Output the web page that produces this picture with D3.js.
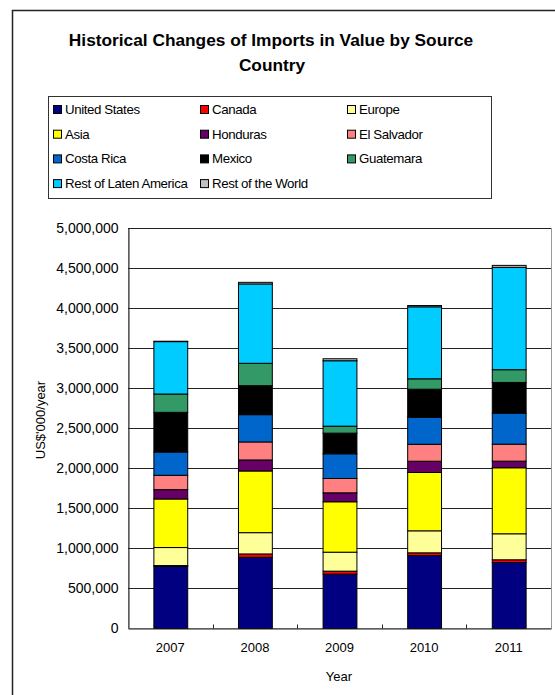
<!DOCTYPE html>
<html>
<head>
<meta charset="utf-8">
<script src="https://cdn.jsdelivr.net/npm/d3@7"></script>
<style>
body { margin: 0; background: #fff; }
text { font-family: Arial, "Liberation Sans", sans-serif; fill: #000; }
</style>
</head>
<body>
<div class="chart"></div>
<script>
var years = ["2007", "2008", "2009", "2010", "2011"];
var seriesNames = ["United States", "Canada", "Europe", "Asia", "Honduras", "El Salvador",
                   "Costa Rica", "Mexico", "Guatemara", "Rest of Laten America", "Rest of the World"];
var unitedStates = [775000, 890000, 680000, 912000, 825000];
var canada       = [12000, 42000, 37000, 34000, 34000];
var europe       = [225000, 266000, 237000, 275000, 325000];
var asia         = [607000, 771000, 630000, 729000, 825000];
var honduras     = [117000, 138000, 112000, 141000, 83000];
var elSalvador   = [179000, 225000, 179000, 212000, 212000];
var costaRica    = [291000, 341000, 309000, 338000, 388000];
var mexico       = [496000, 362000, 258000, 350000, 384000];
var guatemala    = [229000, 280000, 87000, 130000, 159000];
var restLatAm    = [655000, 992000, 818000, 900000, 1279000];
var restWorld    = [5000, 20000, 25000, 16000, 25000];
var yTicks = [0, 500000, 1000000, 1500000, 2000000, 2500000, 3000000, 3500000, 4000000, 4500000, 5000000];
var colors = ["#000080", "#ff0000", "#ffff99", "#ffff00", "#660066", "#ff8080",
              "#0066cc", "#000000", "#339966", "#00ccff", "#c0c0c0"];

function init() {
    var w = 555;
    var h = 695;
    var seriesData = [unitedStates, canada, europe, asia, honduras, elSalvador,
                      costaRica, mexico, guatemala, restLatAm, restWorld];

    // build rows for d3.stack
    var table = years.map(function(y, i) {
        var row = { year: y };
        seriesNames.forEach(function(name, j) { row[name] = seriesData[j][i]; });
        return row;
    });

    var svg = d3.select(".chart")
        .append("svg")
        .attr("width", w)
        .attr("height", h);

    svg.append("rect").attr("width", w).attr("height", h).attr("fill", "#fff");

    // outer chart frame (right and bottom edges fall outside the picture)
    svg.append("path")
        .attr("d", "M12.5," + h + "V10.5H" + w)
        .attr("fill", "none")
        .attr("stroke", "#222")
        .attr("stroke-width", 1.5);

    // title
    var title = svg.append("text")
        .attr("text-anchor", "middle")
        .style("font-size", "17.3px")
        .style("font-weight", "bold");
    title.append("tspan").attr("x", 271).attr("y", 46).text("Historical Changes of Imports in Value by Source");
    title.append("tspan").attr("x", 272).attr("y", 71).text("Country");

    // legend
    var legend = svg.append("g");
    legend.append("rect")
        .attr("x", 48.5).attr("y", 96.5)
        .attr("width", 443).attr("height", 102)
        .attr("fill", "#fff")
        .attr("stroke", "#333");
    var items = legend.selectAll("g.item")
        .data(seriesNames)
        .enter()
        .append("g")
        .attr("class", "item")
        .attr("transform", function(d, i) {
            return "translate(" + (53 + (i % 3) * 147) + "," + (109 + Math.floor(i / 3) * 24.7) + ")";
        });
    items.append("rect")
        .attr("x", 0.5).attr("y", -3.5)
        .attr("width", 8).attr("height", 8)
        .attr("fill", function(d, i) { return colors[i]; })
        .attr("stroke", "#000");
    items.append("text")
        .attr("x", 12).attr("y", 5)
        .style("font-size", "13.3px")
        .style("letter-spacing", "-0.4px")
        .text(function(d) { return d; });

    // plot area
    var left = 128, right = 551, top = 228, bottom = 628;

    var x = d3.scaleBand()
        .domain(years)
        .range([left, right])
        .paddingInner(0.6)
        .paddingOuter(0.3);

    var y = d3.scaleLinear()
        .domain([0, 5000000])
        .range([bottom, top]);

    svg.append("rect")
        .attr("x", left + 0.5).attr("y", top + 0.5)
        .attr("width", right - left).attr("height", bottom - top)
        .attr("fill", "#fff")
        .attr("stroke", "#999");

    // gridlines
    svg.append("g")
        .selectAll("line")
        .data(yTicks.slice(1))
        .enter()
        .append("line")
        .attr("x1", left).attr("x2", right)
        .attr("y1", function(d) { return Math.round(y(d)) + 0.5; })
        .attr("y2", function(d) { return Math.round(y(d)) + 0.5; })
        .attr("stroke", "#222");

    var stack = d3.stack().keys(seriesNames);
    var layers = stack(table);

    var groups = svg.selectAll("g.layer")
        .data(layers)
        .enter()
        .append("g")
        .attr("class", "layer")
        .attr("fill", function(d, i) { return colors[i]; });

    groups.selectAll("rect")
        .data(function(d) { return d; })
        .enter()
        .append("rect")
        .attr("x", function(d) { return x(d.data.year) + 0.5; })
        .attr("y", function(d) { return y(d[1]) + 0.5; })
        .attr("width", x.bandwidth())
        .attr("height", function(d) { return y(d[0]) - y(d[1]); })
        .attr("stroke", "#000")
        .attr("stroke-width", 1);

    // y axis
    var yAxis = d3.axisLeft(y)
        .tickValues(yTicks)
        .tickSize(0)
        .tickPadding(10)
        .tickFormat(d3.format(","));
    var gy = svg.append("g")
        .attr("transform", "translate(" + (left + 0.5) + ",0)")
        .call(yAxis);
    gy.select(".domain").attr("stroke", "#222");
    gy.selectAll("text")
        .style("font-size", "14px")
        .style("font-family", "Arial, 'Liberation Sans', sans-serif")
        .attr("fill", "#000");

    // x axis: small inward ticks between categories
    var xAxis = d3.axisBottom(x).tickSize(0).tickPadding(14);
    var gx = svg.append("g")
        .attr("transform", "translate(0," + (bottom + 0.5) + ")")
        .call(xAxis);
    gx.select(".domain").attr("stroke", "#222");
    gx.selectAll("text")
        .style("font-size", "13px")
        .style("font-family", "Arial, 'Liberation Sans', sans-serif")
        .attr("fill", "#000");
    gx.selectAll("line.sep")
        .data(years.slice(1))
        .enter()
        .append("line")
        .attr("class", "sep")
        .attr("x1", function(d) { return Math.round(x(d) - x.step() * x.paddingInner() / 2) + 0.5; })
        .attr("x2", function(d) { return Math.round(x(d) - x.step() * x.paddingInner() / 2) + 0.5; })
        .attr("y1", 0).attr("y2", -4)
        .attr("stroke", "#222");

    // axis titles
    svg.append("text")
        .attr("transform", "translate(45,420) rotate(-90)")
        .attr("text-anchor", "middle")
        .style("font-size", "13px")
        .text("US$'000/year");

    svg.append("text")
        .attr("x", 339).attr("y", 681)
        .attr("text-anchor", "middle")
        .style("font-size", "13px")
        .text("Year");
}

init()
</script>
</body>
</html>
